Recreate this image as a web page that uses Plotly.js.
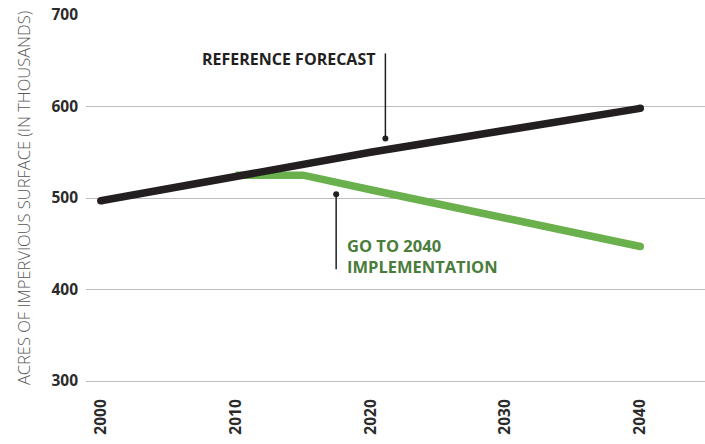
<!DOCTYPE html>
<html>
<head>
<meta charset="utf-8">
<script src="https://cdn.plot.ly/plotly-3.0.1.min.js"></script>
<style>html,body{margin:0;padding:0;background:#fff;}#chart{width:705px;height:444px;}</style>
</head>
<body>
<div id="chart"></div>
<script>
// Data
const refYears = [2000, 2010, 2020, 2030, 2040];
const refValues = [497, 524, 550, 574, 598];
const goYears = [2010, 2015, 2020, 2030, 2040];
const goValues = [525, 525, 509, 478, 447];
const xTicks = [2000, 2010, 2020, 2030, 2040];
const yTicks = [300, 400, 500, 600, 700];
const refLabel = "REFERENCE FORECAST";
const goLabel = "GO TO 2040<br>IMPLEMENTATION";
const yTitle = "ACRES OF IMPERVIOUS SURFACE (IN THOUSANDS)";

const black = "#231f20";
const green = "#6ab04c";
const darkGreen = "#4a7c3b";
const FONT = "'Open Sans', sans-serif";

const traces = [
  {x: goYears, y: goValues, type: "scatter", mode: "lines",
   line: {color: green, width: 7.5, shape: "linear"}, hoverinfo: "skip"},
  {x: refYears, y: refValues, type: "scatter", mode: "lines",
   line: {color: black, width: 7.5}, hoverinfo: "skip"},
  {x: [refYears[0], refYears[refYears.length-1]], y: [refValues[0], refValues[refValues.length-1]],
   type: "scatter", mode: "markers", marker: {color: black, size: 7.5}, hoverinfo: "skip"},
  {x: [goYears[goYears.length-1]], y: [goValues[goValues.length-1]],
   type: "scatter", mode: "markers", marker: {color: green, size: 7.5}, hoverinfo: "skip"}
];

const layout = {
  width: 705, height: 444,
  margin: {l: 86, r: 0, t: 15, b: 63},
  paper_bgcolor: "#fff", plot_bgcolor: "#fff",
  showlegend: false,
  font: {family: FONT, color: "#333"},
  xaxis: {
    range: [1998.9, 2044.8],
    tickvals: xTicks, ticktext: xTicks.map(String),
    tickangle: -90, showgrid: false, zeroline: false,
    showline: true, linecolor: "#bdbdbd", linewidth: 1,
    ticks: "", ticklabelstandoff: 11,
    tickfont: {family: FONT, size: 15.5, color: "#2b2b2b", weight: "bold"}
  },
  yaxis: {
    range: [300, 700],
    tickvals: yTicks, ticktext: yTicks.map(String),
    showgrid: true, gridcolor: "#bdbdbd", gridwidth: 1,
    zeroline: false, showline: false, ticks: "",
    ticklabelstandoff: 7,
    tickfont: {family: FONT, size: 15.5, color: "#2b2b2b", weight: "bold"},
    title: {text: yTitle, standoff: 16,
            font: {family: FONT, size: 16.5, color: "#555", weight: 300}}
  },
  shapes: [
    {type: "line", xref: "x", yref: "y", x0: 2021.1, x1: 2021.1, y0: 658, y1: 565,
     line: {color: black, width: 1.5}},
    {type: "circle", xref: "x", yref: "y", xsizemode: "pixel", ysizemode: "pixel",
     xanchor: 2021.1, yanchor: 565, x0: -3, x1: 3, y0: -3, y1: 3,
     fillcolor: black, line: {width: 0}},
    {type: "line", xref: "x", yref: "y", x0: 2017.45, x1: 2017.45, y0: 504, y1: 422,
     line: {color: black, width: 1.5}},
    {type: "circle", xref: "x", yref: "y", xsizemode: "pixel", ysizemode: "pixel",
     xanchor: 2017.45, yanchor: 504, x0: -3, x1: 3, y0: -3, y1: 3,
     fillcolor: black, line: {width: 0}}
  ],
  annotations: [
    {xref: "x", yref: "y", x: 2020.45, y: 652, text: refLabel, showarrow: false,
     xanchor: "right", yanchor: "middle",
     font: {family: FONT, size: 16, color: black, weight: "bold"}},
    {xref: "x", yref: "y", x: 2018.1, y: 437, text: goLabel, showarrow: false,
     xanchor: "left", yanchor: "middle", align: "left",
     font: {family: FONT, size: 16.5, color: darkGreen, weight: "bold"}}
  ]
};

Plotly.newPlot("chart", traces, layout, {displayModeBar: false, staticPlot: true});
</script>
</body>
</html>
